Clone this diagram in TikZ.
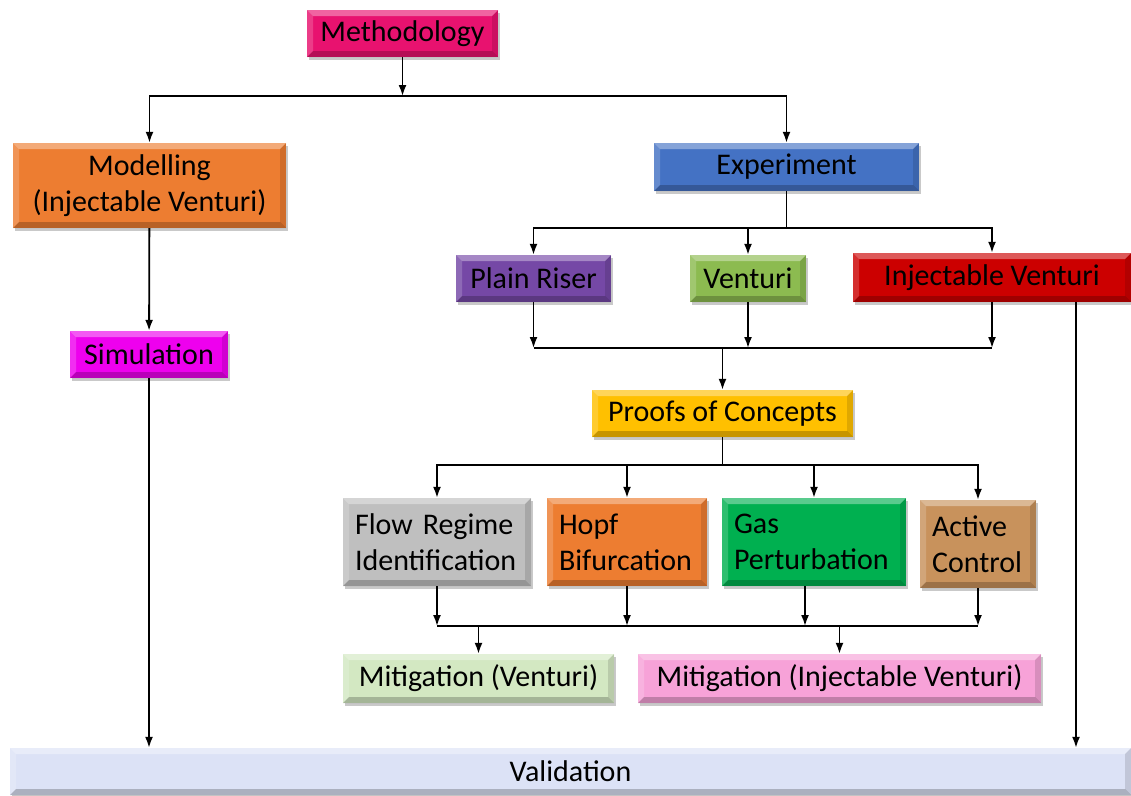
\documentclass[tikz,border=0pt]{standalone}
\usepackage{fontspec}
\setmainfont{Carlito}
\usetikzlibrary{arrows.meta,positioning,calc,shadows}
\definecolor{MethPink}{HTML}{E8126F}
\definecolor{ModOrange}{HTML}{ED7D31}
\definecolor{ExpBlue}{HTML}{4472C4}
\definecolor{RiserPurple}{HTML}{7548A6}
\definecolor{VentGreen}{HTML}{8CBB50}
\definecolor{InjRed}{HTML}{CC0000}
\definecolor{SimMagenta}{HTML}{EE00EE}
\definecolor{ProofGold}{HTML}{FFC000}
\definecolor{FlowGray}{HTML}{BFBFBF}
\definecolor{GasGreen}{HTML}{00B050}
\definecolor{Cork}{HTML}{C8925C}
\definecolor{MitPale}{HTML}{D3E8C2}
\definecolor{MitPink}{HTML}{F7A2D8}
\definecolor{ValBlue}{HTML}{DCE2F6}
\tikzset{
  blk/.style={fill=#1,inner sep=0pt,align=center,font=\fontsize{30}{36}\selectfont,
    drop shadow={shadow xshift=2pt,shadow yshift=-2.5pt,opacity=.3,fill=black!70},
    path picture={
      \path (path picture bounding box.north west) coordinate (bnw)
            (path picture bounding box.south east) coordinate (bse)
            (bnw -| bse) coordinate (bne) (bnw |- bse) coordinate (bsw);
      \fill[white,opacity=.35] (bnw) -- (bne) -- ([shift={(-6pt,-6pt)}]bne) -- ([shift={(6pt,-6pt)}]bnw) -- cycle;
      \fill[white,opacity=.18] (bnw) -- ([shift={(6pt,-6pt)}]bnw) -- ([shift={(6pt,6pt)}]bsw) -- (bsw) -- cycle;
      \fill[black,opacity=.22] (bsw) -- ([shift={(6pt,6pt)}]bsw) -- ([shift={(-6pt,6pt)}]bse) -- (bse) -- cycle;
      \fill[black,opacity=.12] (bse) -- ([shift={(-6pt,6pt)}]bse) -- ([shift={(-6pt,-6pt)}]bne) -- (bne) -- cycle;
    }},
  lblk/.style={blk=#1,align=left,inner xsep=12pt},
  arr/.style={-{Latex[length=11pt,width=8pt]},line width=1.8pt,draw=black},
  bus/.style={line width=1.8pt,draw=black},
}
\begin{document}
\begin{tikzpicture}[x=1pt,y=-1pt]
\useasboundingbox (0,0) rectangle (1131,795);
% top of the tree
\node[blk=MethPink,minimum width=191,minimum height=47] (meth) at (402.5,33.5) {Methodology};
\node[blk=ModOrange,minimum width=273,minimum height=85] (model) at (149.5,185.5) {Modelling\\(Injectable Venturi)};
\node[blk=ExpBlue,minimum width=265,minimum height=48] (expt) at (786.5,167) {Experiment};
\coordinate (top) at (402.5,96);
\draw[arr] (meth) -- (top);
\draw[arr] (top) -| (model);
\draw[arr] (top) -| (expt);
% modelling branch
\node[blk=SimMagenta,minimum width=158,minimum height=47] (sim) at (149,354.5) {Simulation};
\draw[arr] (model) -- (sim);
% experiment rigs
\node[blk=RiserPurple,minimum width=155,minimum height=47] (plain) at (533.5,278.5) {Plain Riser};
\node[blk=VentGreen,minimum width=116,minimum height=47] (vent) at (748,278.5) {Venturi};
\node[blk=InjRed,minimum width=278,minimum height=49] (injv) at (992,277.5) {Injectable Venturi};
\coordinate (eb) at (786.5,228);
\draw[bus] (expt) -- (eb);
\draw[arr] (eb) -| (plain);
\draw[arr] (eb) -| (vent);
\draw[arr] (eb) -| (injv);
% collect the rigs
\node[blk=ProofGold,minimum width=261,minimum height=47] (proof) at (722.5,413.5) {Proofs of Concepts};
\coordinate (rb) at (722.5,348);
\draw[arr] (plain) -- (plain |- rb);
\draw[arr] (vent) -- (vent |- rb);
\draw[arr] (injv) -- (injv |- rb);
\draw[bus] (plain |- rb) -- (injv |- rb);
\draw[arr] (rb) -- (proof);
% proofs of concepts
\node[lblk=FlowGray,text width=164,minimum height=88] (flow) at (437,542) {Flow Regime\\Identification};
\node[lblk=ModOrange,text width=136,minimum height=88] (hopf) at (627,542) {Hopf\\Bifurcation};
\node[lblk=GasGreen,text width=160,minimum height=88] (gas) at (814,542) {Gas\\Perturbation};
\node[lblk=Cork,text width=92,minimum height=88] (act) at (978,544) {Active\\Control};
\coordinate (pb) at (722.5,465);
\draw[bus] (proof) -- (pb);
\foreach \n in {flow,hopf,gas,act}
  \draw[arr] (pb) -| (\n);
% mitigation
\node[blk=MitPale,minimum width=271,minimum height=49] (mitv) at (478.5,678.5) {Mitigation (Venturi)};
\node[blk=MitPink,minimum width=403,minimum height=49] (mitiv) at (839.5,678.5) {Mitigation (Injectable Venturi)};
\coordinate (mb) at (640,626);
\draw[arr] (flow) -- (flow |- mb);
\draw[arr] (hopf) -- (hopf |- mb);
\draw[arr] ([xshift=-9pt]gas.south) -- ([xshift=-9pt]gas.south |- mb);
\draw[arr] (act) -- (act |- mb);
\draw[bus] (flow |- mb) -- (act |- mb);
\draw[arr] (mitv |- mb) -- (mitv);
\draw[arr] (mitiv |- mb) -- (mitiv);
% validation
\node[blk=ValBlue,minimum width=1121,minimum height=47] (valid) at (570.5,771.5) {Validation};
\draw[arr] (sim) -- (sim |- valid.north);
\draw[arr] ([xshift=84pt]injv.south) -- ([xshift=84pt]injv.south |- valid.north);
\end{tikzpicture}
\end{document}
